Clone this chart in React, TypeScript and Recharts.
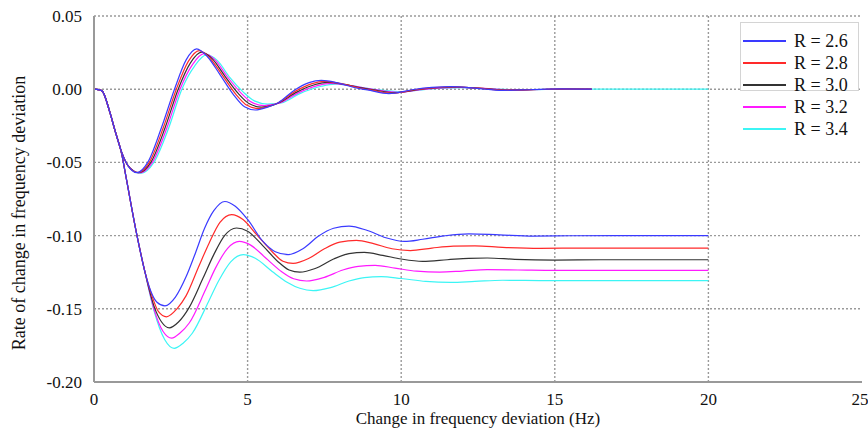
import React from 'react';
import { LineChart, Line, XAxis, YAxis, CartesianGrid, ReferenceLine } from 'recharts';

type Pt = [number, number];

const xTicks = [0, 5, 10, 15, 20, 25];
const yTicks = [0.05, 0, -0.05, -0.1, -0.15, -0.2];
const xGrid = [5, 10, 15, 20];
const rLabels = ['R = 2.6', 'R = 2.8', 'R = 3.0', 'R = 3.2', 'R = 3.4'];
const colors = ['#3a3aff', '#ff2a2a', '#333333', '#ff1aff', '#3cf5f5'];

// Upper family (oscillation around zero)
const upper26: Pt[] = [[0,0],[0.25,-0.001],[0.52,-0.016],[0.68,-0.028],[0.9,-0.043],[1.1,-0.052],[1.4,-0.057],[1.75,-0.05],[2.2,-0.026],[2.62,0],[3.0,0.02],[3.34,0.0275],[3.7,0.022],[4.1,0.01],[4.55,-0.004],[4.9,-0.012],[5.25,-0.0142],[5.65,-0.0122],[6.0,-0.0092],[6.5,-0.001],[7.0,0.0045],[7.4,0.006],[7.9,0.0045],[8.5,0.001],[8.9,-0.0005],[9.6,-0.003],[10.4,-0.0002],[11.0,0.0012],[11.6,0.0018],[12.4,0.0008],[13.3,-0.0008],[14.3,-0.0002],[15.2,0.0002],[16.2,0]];
const upper28: Pt[] = [[0,0],[0.25,-0.001],[0.52,-0.016],[0.68,-0.028],[0.9,-0.043],[1.1,-0.052],[1.43,-0.057],[1.8,-0.05],[2.26,-0.026],[2.68,0],[3.07,0.019],[3.42,0.0264],[3.78,0.021],[4.18,0.0095],[4.62,-0.0035],[4.98,-0.011],[5.35,-0.0132],[5.72,-0.0116],[6.0,-0.0093],[6.55,-0.0015],[7.1,0.0038],[7.5,0.0053],[8.0,0.004],[8.6,0.001],[9.0,-0.0005],[9.7,-0.0027],[10.5,-0.0002],[11.1,0.0011],[11.7,0.0016],[12.5,0.0007],[13.4,-0.0007],[14.4,-0.0002],[15.3,0.0002],[16.2,0]];
const upper30: Pt[] = [[0,0],[0.25,-0.001],[0.52,-0.016],[0.68,-0.028],[0.9,-0.043],[1.1,-0.052],[1.46,-0.057],[1.85,-0.05],[2.32,-0.026],[2.74,0],[3.14,0.018],[3.5,0.0253],[3.86,0.0205],[4.26,0.009],[4.7,-0.003],[5.06,-0.01],[5.45,-0.0122],[5.8,-0.011],[6.0,-0.0094],[6.6,-0.002],[7.2,0.0032],[7.6,0.0046],[8.1,0.0035],[8.7,0.001],[9.1,-0.0005],[9.8,-0.0024],[10.6,-0.0002],[11.2,0.001],[11.8,0.0014],[12.6,0.0006],[13.5,-0.0006],[14.5,-0.0002],[15.4,0.0002],[16.2,0]];
const upper32: Pt[] = [[0,0],[0.25,-0.001],[0.52,-0.016],[0.68,-0.028],[0.9,-0.043],[1.1,-0.052],[1.49,-0.0572],[1.9,-0.05],[2.38,-0.026],[2.8,0],[3.21,0.017],[3.58,0.0243],[3.94,0.02],[4.34,0.0085],[4.78,-0.0025],[5.14,-0.009],[5.55,-0.0112],[5.85,-0.0104],[6.05,-0.0094],[6.65,-0.0025],[7.3,0.0026],[7.7,0.004],[8.2,0.003],[8.8,0.0008],[9.2,-0.0005],[9.9,-0.0021],[10.7,-0.0002],[11.3,0.0009],[11.9,0.0012],[12.7,0.0005],[13.6,-0.0005],[14.6,-0.0002],[15.5,0.0001],[16.2,0]];
const upper34: Pt[] = [[0,0],[0.25,-0.001],[0.52,-0.016],[0.68,-0.028],[0.9,-0.043],[1.1,-0.052],[1.52,-0.0575],[1.95,-0.05],[2.44,-0.026],[2.86,0],[3.28,0.016],[3.66,0.0234],[4.02,0.0195],[4.42,0.008],[4.86,-0.002],[5.22,-0.008],[5.65,-0.0102],[5.9,-0.0099],[6.1,-0.0094],[6.7,-0.003],[7.4,0.002],[7.85,0.0035],[8.3,0.0026],[8.9,0.0006],[9.3,-0.0005],[10.0,-0.0018],[10.8,-0.0002],[11.4,0.0008],[12.0,0.001],[12.8,0.0004],[13.7,-0.0004],[14.7,-0.0001],[15.6,0.0001],[16.5,0],[20,0]];

// Lower family (settling at negative offsets)
const lower26: Pt[] = [[0,0],[0.25,-0.001],[0.52,-0.016],[0.68,-0.028],[0.9,-0.044],[1.06,-0.062],[1.39,-0.099],[1.66,-0.125],[1.85,-0.138],[2.05,-0.1455],[2.31,-0.148],[2.65,-0.142],[3.0,-0.128],[3.3,-0.112],[3.6,-0.095],[3.9,-0.083],[4.26,-0.0767],[4.6,-0.08],[5.0,-0.089],[5.5,-0.104],[5.9,-0.111],[6.32,-0.113],[6.8,-0.109],[7.3,-0.1005],[7.8,-0.095],[8.3,-0.0935],[8.9,-0.0965],[9.5,-0.1015],[10.1,-0.104],[10.7,-0.1025],[11.4,-0.1002],[12.2,-0.0988],[13.2,-0.0995],[14.3,-0.1003],[15.5,-0.1001],[17,-0.1],[20,-0.1]];
const lower28: Pt[] = [[0,0],[0.25,-0.001],[0.52,-0.016],[0.68,-0.028],[0.9,-0.044],[1.06,-0.062],[1.39,-0.099],[1.66,-0.125],[1.9,-0.142],[2.1,-0.152],[2.36,-0.1555],[2.7,-0.15],[3.0,-0.141],[3.42,-0.1206],[3.75,-0.105],[4.1,-0.091],[4.48,-0.0857],[4.85,-0.089],[5.3,-0.0995],[5.8,-0.111],[6.15,-0.1175],[6.48,-0.119],[7.0,-0.1155],[7.5,-0.109],[8.0,-0.1045],[8.54,-0.1033],[9.1,-0.1055],[9.7,-0.109],[10.3,-0.1102],[11.0,-0.1085],[11.7,-0.1072],[12.4,-0.107],[13.3,-0.108],[14.5,-0.1087],[16,-0.1085],[20,-0.1085]];
const lower30: Pt[] = [[0,0],[0.25,-0.001],[0.52,-0.016],[0.68,-0.028],[0.9,-0.044],[1.06,-0.062],[1.39,-0.099],[1.66,-0.125],[1.95,-0.148],[2.2,-0.159],[2.45,-0.163],[2.75,-0.159],[3.1,-0.149],[3.55,-0.129],[3.9,-0.113],[4.25,-0.1],[4.64,-0.0948],[5.0,-0.097],[5.5,-0.107],[6.0,-0.118],[6.35,-0.1235],[6.7,-0.125],[7.2,-0.1225],[7.8,-0.116],[8.3,-0.1123],[8.8,-0.1115],[9.4,-0.1135],[10.0,-0.116],[10.7,-0.1176],[11.5,-0.1165],[12.2,-0.1155],[12.8,-0.1153],[13.7,-0.1162],[15,-0.1167],[16.5,-0.1165],[20,-0.1165]];
const lower32: Pt[] = [[0,0],[0.25,-0.001],[0.52,-0.016],[0.68,-0.028],[0.9,-0.044],[1.06,-0.062],[1.39,-0.099],[1.66,-0.125],[1.95,-0.15],[2.25,-0.1655],[2.53,-0.17],[2.8,-0.1665],[3.1,-0.1597],[3.63,-0.137],[3.95,-0.1224],[4.35,-0.1087],[4.73,-0.104],[5.1,-0.1065],[5.6,-0.1155],[6.1,-0.1245],[6.5,-0.1295],[6.92,-0.131],[7.5,-0.1285],[8.1,-0.1235],[8.6,-0.121],[9.15,-0.1203],[9.8,-0.1222],[10.5,-0.1243],[11.25,-0.1249],[12.0,-0.1242],[12.8,-0.1233],[13.8,-0.1235],[15,-0.1238],[16.5,-0.1237],[20,-0.1237]];
const lower34: Pt[] = [[0,0],[0.25,-0.001],[0.52,-0.016],[0.68,-0.028],[0.9,-0.044],[1.06,-0.062],[1.39,-0.099],[1.66,-0.125],[1.95,-0.151],[2.3,-0.171],[2.61,-0.177],[2.9,-0.1735],[3.2,-0.1667],[3.73,-0.145],[4.05,-0.1312],[4.45,-0.1179],[4.86,-0.113],[5.25,-0.1155],[5.8,-0.1245],[6.3,-0.132],[6.7,-0.136],[7.13,-0.1376],[7.7,-0.1355],[8.3,-0.131],[8.8,-0.1287],[9.35,-0.128],[10.0,-0.1293],[10.8,-0.1313],[11.6,-0.132],[12.4,-0.1313],[13.3,-0.1305],[14.5,-0.1307],[16,-0.1308],[20,-0.1308]];

const upperSets = [upper26, upper28, upper30, upper32, upper34];
const lowerSets = [lower26, lower28, lower30, lower32, lower34];

const toData = (pts: Pt[]) => pts.map(([x, y]) => ({ x, y }));

const FONT = "'Liberation Serif', 'Times New Roman', serif";
const gridStroke = '#9a9a9a';
const axisStroke = '#999999';

const XTick = (props: any) => {
  const { x, y, payload } = props;
  return (
    <text x={x} y={y + 15} textAnchor="middle" style={{ fontFamily: FONT, fontSize: 17, fill: '#111' }}>
      {String(payload.value)}
    </text>
  );
};

const YTick = (props: any) => {
  const { x, y, payload } = props;
  return (
    <text x={x - 2} y={y + 6} textAnchor="end" style={{ fontFamily: FONT, fontSize: 17, fill: '#111' }}>
      {Number(payload.value).toFixed(2)}
    </text>
  );
};

export default function App() {
  const lines: React.ReactNode[] = [];
  for (let i = 4; i >= 0; i--) {
    lines.push(
      <Line key={'l' + i} data={toData(lowerSets[i])} dataKey="y" type="monotone" stroke={colors[i]}
        strokeWidth={1.2} dot={false} activeDot={false} isAnimationActive={false} />
    );
  }
  for (let i = 4; i >= 0; i--) {
    lines.push(
      <Line key={'u' + i} data={toData(upperSets[i])} dataKey="y" type="monotone" stroke={colors[i]}
        strokeWidth={1.2} dot={false} activeDot={false} isAnimationActive={false} />
    );
  }
  return (
    <div style={{ position: 'absolute', left: 0, top: 0, width: 868, height: 432, background: '#fff', fontFamily: FONT }}>
      <LineChart width={868} height={432} margin={{ top: 16, right: 6, bottom: 0, left: 0 }} style={{ fontFamily: FONT }}>
        <CartesianGrid vertical={false} stroke={gridStroke} strokeWidth={1.4} strokeDasharray="2 2" />
        {xGrid.map((v) => (
          <ReferenceLine key={'g' + v} x={v} stroke={gridStroke} strokeWidth={1.4} strokeDasharray="2 2" />
        ))}
        <XAxis type="number" dataKey="x" domain={[0, 25]} ticks={xTicks} allowDataOverflow
          height={50} tickLine={false} axisLine={{ stroke: axisStroke, strokeWidth: 2 }}
          tick={<XTick />}
          label={() => (
            <text x={478} y={424} textAnchor="middle" style={{ fontFamily: FONT, fontSize: 17, fill: '#111' }}>
              Change in frequency deviation (Hz)
            </text>
          )} />
        <YAxis type="number" domain={[-0.2, 0.05]} ticks={yTicks} allowDataOverflow
          width={94} tickLine={false} tickMargin={4} axisLine={{ stroke: axisStroke, strokeWidth: 2 }}
          tick={<YTick />}
          label={() => (
            <text x={25} y={213} transform="rotate(-90 25 213)" textAnchor="middle" style={{ fontFamily: FONT, fontSize: 18, fill: '#111' }}>
              Rate of change in frequency deviation
            </text>
          )} />
        {lines}
      </LineChart>
      <div style={{ position: 'absolute', left: 740, top: 22, width: 119, height: 69, border: '1px solid #d4d4d4', background: '#fff', boxSizing: 'border-box' }}>
        {rLabels.map((lab, i) => (
          <div key={lab} style={{ position: 'absolute', left: 0, top: 18 + i * 22 - 12, height: 24, width: 140 }}>
            <div style={{ position: 'absolute', left: 2, top: 11, width: 43, height: 2, background: colors[i] }} />
            <div style={{ position: 'absolute', left: 53, top: 0, height: 24, lineHeight: '24px', fontFamily: FONT, fontSize: 18, color: '#111', whiteSpace: 'nowrap' }}>
              {lab}
            </div>
          </div>
        ))}
      </div>
    </div>
  );
}
